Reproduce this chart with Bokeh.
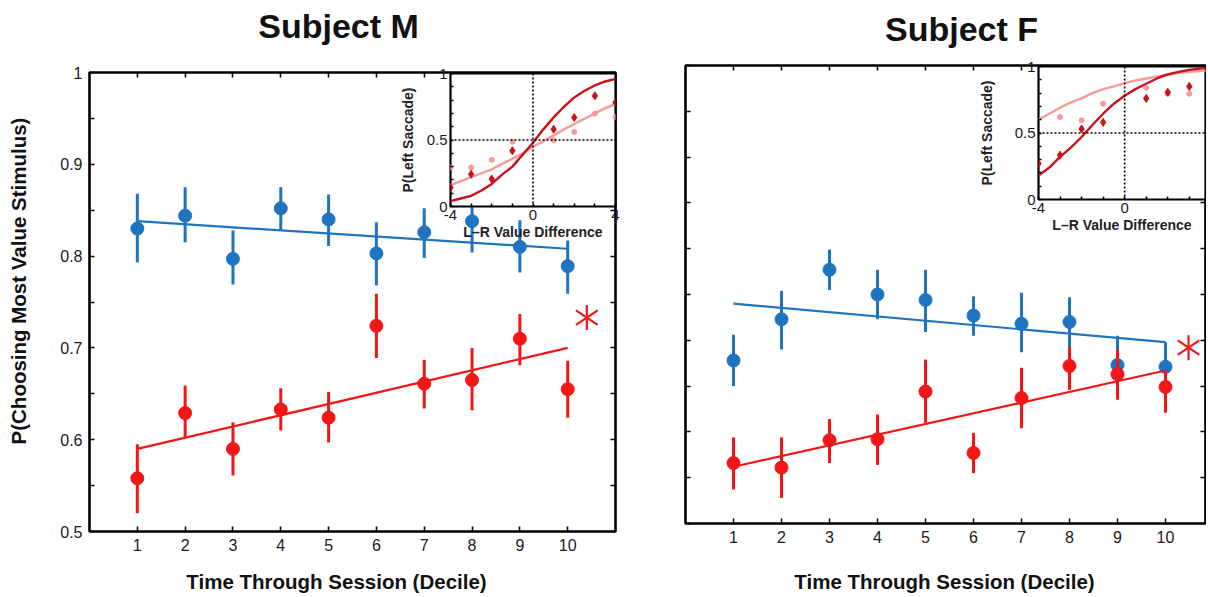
from bokeh.plotting import figure
from bokeh.models import (ColumnDataSource, Range1d, FixedTicker, LinearAxis, Span, Label,
                          CustomJSTickFormatter, GridBox, Column)
from bokeh.embed import file_html
from bokeh.resources import INLINE

FONT = "Liberation Sans"
BLUE = "#1f74bf"
RED = "#f21616"
DARK = "#c8121c"
PINK = "#f79a9a"
HALF_PI = 1.5707963

# ---------------- data ----------------
deciles = [1, 2, 3, 4, 5, 6, 7, 8, 9, 10]
y_ticks = [0.5, 0.6, 0.7, 0.8, 0.9, 1.0]
y_minor = [0.55, 0.65, 0.75, 0.85, 0.95]

# Subject M
m_high = [0.830, 0.844, 0.797, 0.852, 0.840, 0.803, 0.826, 0.838, 0.810, 0.789]
m_high_lo = [0.793, 0.815, 0.769, 0.828, 0.811, 0.768, 0.798, 0.804, 0.782, 0.759]
m_high_hi = [0.868, 0.875, 0.828, 0.875, 0.867, 0.837, 0.852, 0.864, 0.839, 0.817]
m_low = [0.558, 0.629, 0.590, 0.633, 0.624, 0.724, 0.661, 0.665, 0.710, 0.655]
m_low_lo = [0.520, 0.602, 0.561, 0.610, 0.597, 0.689, 0.634, 0.632, 0.681, 0.624]
m_low_hi = [0.595, 0.659, 0.619, 0.656, 0.652, 0.759, 0.687, 0.700, 0.737, 0.686]
fit_x = [1, 10]
m_high_fit = [0.838, 0.808]
m_low_fit = [0.590, 0.700]
m_sig_x = [10.4]
m_sig_y = [0.733]

# Subject F
f_high = [0.678, 0.723, 0.777, 0.750, 0.744, 0.727, 0.718, 0.720, 0.673, 0.671]
f_high_lo = [0.650, 0.690, 0.755, 0.723, 0.709, 0.705, 0.687, 0.690, 0.640, 0.646]
f_high_hi = [0.706, 0.754, 0.799, 0.777, 0.777, 0.748, 0.752, 0.747, 0.705, 0.698]
f_low = [0.566, 0.561, 0.591, 0.592, 0.644, 0.577, 0.637, 0.672, 0.663, 0.649]
f_low_lo = [0.537, 0.528, 0.566, 0.564, 0.610, 0.555, 0.604, 0.646, 0.635, 0.621]
f_low_hi = [0.594, 0.594, 0.614, 0.619, 0.679, 0.599, 0.670, 0.693, 0.690, 0.666]
f_high_fit = [0.740, 0.698]
f_low_fit = [0.562, 0.667]
f_sig_x = [10.48]
f_sig_y = [0.692]

# Insets: P(Left Saccade) vs L-R value difference
curve_x = [-4, -3.5, -3, -2.5, -2, -1.5, -1, -0.5, 0, 0.5, 1, 1.5, 2, 2.5, 3, 3.5, 4]
m_inset_x = [-4, -3, -2, -1, 1, 2, 3, 4]
m_inset_dark = [0.143, 0.243, 0.206, 0.419, 0.581, 0.669, 0.832, 0.782]
m_inset_light = [0.293, 0.293, 0.351, 0.486, 0.499, 0.561, 0.699, 0.674]
m_curve_dark = [0.04, 0.06, 0.08, 0.12, 0.17, 0.24, 0.30, 0.39, 0.48, 0.58, 0.67, 0.75, 0.82, 0.87, 0.91, 0.94, 0.96]
m_curve_light = [0.16, 0.19, 0.22, 0.25, 0.28, 0.32, 0.36, 0.40, 0.45, 0.49, 0.535, 0.58, 0.62, 0.66, 0.70, 0.74, 0.77]

f_inset_dark_x = [-4, -3, -2, -1, 1, 2, 3]
f_inset_dark = [0.27, 0.333, 0.53, 0.58, 0.76, 0.807, 0.85]
f_inset_light_x = [-3, -2, -1, 1, 2, 3]
f_inset_light = [0.62, 0.595, 0.72, 0.84, 0.795, 0.795]
f_curve_dark = [0.18, 0.24, 0.32, 0.39, 0.47, 0.56, 0.645, 0.72, 0.78, 0.83, 0.87, 0.91, 0.94, 0.96, 0.975, 0.985, 0.99]
f_curve_light = [0.60, 0.645, 0.69, 0.73, 0.76, 0.80, 0.83, 0.85, 0.875, 0.895, 0.91, 0.925, 0.94, 0.95, 0.96, 0.965, 0.97]

inset_x_ticks = [-4, 0, 4]
inset_x_minor = [-3, -2, -1, 1, 2, 3]
inset_y_ticks = [0, 0.5, 1]
inset_y_minor = [0.1, 0.2, 0.3, 0.4, 0.6, 0.7, 0.8, 0.9]

XLABEL = "Time Through Session (Decile)"
YLABEL = "P(Choosing Most Value Stimulus)"

# ---------------- helpers ----------------
fmt = CustomJSTickFormatter(code="return String(Math.round(tick*10)/10);")
blank = CustomJSTickFormatter(code="return '';")


def style_axis(ax, size="16px", labels=True, tick=5):
    ax.axis_line_color = None
    ax.major_tick_in = tick
    ax.major_tick_out = 0
    ax.minor_tick_in = tick
    ax.minor_tick_out = 0
    ax.major_tick_line_width = 1.6
    ax.minor_tick_line_width = 1.6
    ax.major_label_text_font = FONT
    ax.major_label_text_font_size = size
    ax.major_label_text_color = "#1a1a1a"
    ax.major_label_standoff = 7
    if labels:
        ax.formatter = fmt
    else:
        ax.formatter = blank
        ax.major_label_text_font_size = "1px"
        ax.major_label_standoff = 0


def main_fig(width, height, bl, br, bt, bb, xmax, ylabels):
    p = figure(width=width, height=height, x_range=Range1d(0, xmax), y_range=Range1d(0.5, 1.0),
               output_backend="svg", toolbar_location=None, title=None,
               min_border_left=bl, min_border_right=br, min_border_top=bt, min_border_bottom=bb)
    p.xgrid.visible = False
    p.ygrid.visible = False
    p.background_fill_color = "white"
    p.border_fill_color = "white"
    p.outline_line_color = "black"
    p.outline_line_width = 2.6
    xt = FixedTicker(ticks=deciles)
    yt = FixedTicker(ticks=y_ticks, minor_ticks=y_minor)
    p.below[0].ticker = xt
    p.left[0].ticker = yt
    style_axis(p.below[0])
    style_axis(p.left[0], labels=ylabels)
    top = LinearAxis(ticker=xt)
    style_axis(top, labels=False)
    p.add_layout(top, "above")
    right = LinearAxis(ticker=yt)
    style_axis(right, labels=False)
    p.add_layout(right, "right")
    p.align = "start"
    return p


def add_series(p, y, lo, hi, fit, color):
    src = ColumnDataSource(dict(x=deciles, y=y, lo=lo, hi=hi))
    p.line(fit_x, fit, line_color=color, line_width=2.2)
    p.segment(x0="x", y0="lo", x1="x", y1="hi", source=src, line_color=color, line_width=3)
    p.scatter("x", "y", source=src, size=13, color=color)


def add_sig(p, sx, sy):
    p.scatter(sx, sy, marker="y", size=25, line_color=RED, line_width=2.2)
    p.scatter(sx, sy, marker="y", angle=3.14159265, size=25, line_color=RED, line_width=2.2)


def inset_fig(width, height, bl, br, xmax, ylab_standoff):
    f = figure(width=width, height=height, x_range=Range1d(-4, xmax), y_range=Range1d(0, 1),
               output_backend="svg", toolbar_location=None, title=None,
               min_border_left=bl, min_border_right=br, min_border_top=10, min_border_bottom=42)
    f.xgrid.visible = False
    f.ygrid.visible = False
    f.background_fill_color = "white"
    f.border_fill_color = None
    f.outline_line_color = "black"
    f.outline_line_width = 2.2
    f.xaxis.ticker = FixedTicker(ticks=inset_x_ticks, minor_ticks=inset_x_minor)
    f.yaxis.ticker = FixedTicker(ticks=inset_y_ticks, minor_ticks=inset_y_minor)
    for ax in (f.xaxis[0], f.yaxis[0]):
        style_axis(ax, size="15px", tick=3)
        ax.major_label_standoff = 3
        ax.axis_label_text_font = FONT
        ax.axis_label_text_font_size = "14px"
        ax.axis_label_text_font_style = "bold"
        ax.axis_label_text_color = "#222222"
    f.xaxis.axis_label = "L\u2013R Value Difference"
    f.yaxis.axis_label = "P(Left Saccade)"
    f.xaxis.axis_label_standoff = 1
    f.yaxis.axis_label_standoff = ylab_standoff
    f.add_layout(Span(location=0, dimension="height", line_color="black", line_dash="2 2", line_width=1.6))
    f.add_layout(Span(location=0.5, dimension="width", line_color="black", line_dash="2 2", line_width=1.6))
    f.align = "start"
    return f


# ---------------- Subject M ----------------
H = 595
W1 = 640
p1 = main_fig(W1, H, 89, W1 - 615, 72, H - 531, 11, True)
add_series(p1, m_high, m_high_lo, m_high_hi, m_high_fit, BLUE)
add_series(p1, m_low, m_low_lo, m_low_hi, m_low_fit, RED)
add_sig(p1, m_sig_x, m_sig_y)

# ---------------- Subject F ----------------
W_ALL = 1206
W2 = W_ALL - W1
R_EDGE = W_ALL - 1
p2 = main_fig(W2, H, 685 - W1, 1, 65, H - 523, (R_EDGE - 685) / 48.0, False)
add_series(p2, f_high, f_high_lo, f_high_hi, f_high_fit, BLUE)
add_series(p2, f_low, f_low_lo, f_low_hi, f_low_fit, RED)
add_sig(p2, f_sig_x, f_sig_y)

# ---------------- insets ----------------
i1 = inset_fig(52 + 167 + 8, 185, 52, 8, 4, 8)
i1.line(curve_x, m_curve_light, line_color=PINK, line_width=2.4)
i1.line(curve_x, m_curve_dark, line_color=DARK, line_width=2.4)
i1.scatter(m_inset_x, m_inset_light, size=5, color=PINK)
i1.scatter(m_inset_x, m_inset_dark, marker="diamond", size=8, color=DARK)

in2_w = R_EDGE - 1037
I2_BL = 62
i2 = inset_fig(I2_BL + in2_w + 1, 185, I2_BL, 1, -4 + in2_w / 21.67, 17)
i2.line(curve_x, f_curve_light, line_color=PINK, line_width=2.4)
i2.line(curve_x, f_curve_dark, line_color=DARK, line_width=2.4)
i2.scatter(f_inset_light_x, f_inset_light, size=5, color=PINK)
i2.scatter(f_inset_dark_x, f_inset_dark, marker="diamond", size=8, color=DARK)

# ---------------- text overlay (titles and axis labels) ----------------
ov = figure(width=W_ALL, height=H, x_range=Range1d(0, 1), y_range=Range1d(0, 1),
            output_backend="svg", toolbar_location=None, title=None,
            x_axis_location=None, y_axis_location=None, min_border=0)
ov.grid.visible = False
ov.background_fill_color = None
ov.border_fill_color = None
ov.outline_line_color = None
ov.align = "start"


def put_text(text, px, py, size, angle=0.0):
    ov.add_layout(Label(x=px, y=H - py, x_units="screen", y_units="screen", text=text, angle=angle,
                        text_align="center", text_baseline="alphabetic", text_font=FONT,
                        text_font_size=size, text_font_style="bold", text_color="#111111"))


put_text("Subject M", 338, 25, "34px")
put_text("Subject F", 961, 28, "34px")
put_text(XLABEL, 336, 581, "20.5px")
put_text(XLABEL, 944, 581, "20.5px")
put_text(YLABEL, 18, 280.5, "20.5px", angle=HALF_PI)

c1 = Column(children=[p1], align="start")
c2 = Column(children=[p2], align="start")
c3 = Column(children=[i1], align="start", margin=(63, 0, 0, 396))
c4 = Column(children=[i2], align="start", margin=(56, 0, 0, 1037 - I2_BL - W1))
c5 = Column(children=[ov], align="start")
p = GridBox(children=[(c1, 0, 0), (c2, 0, 1), (c3, 0, 0), (c4, 0, 1), (c5, 0, 0, 1, 2)])
open("out.html", "w").write(file_html(p, INLINE))
